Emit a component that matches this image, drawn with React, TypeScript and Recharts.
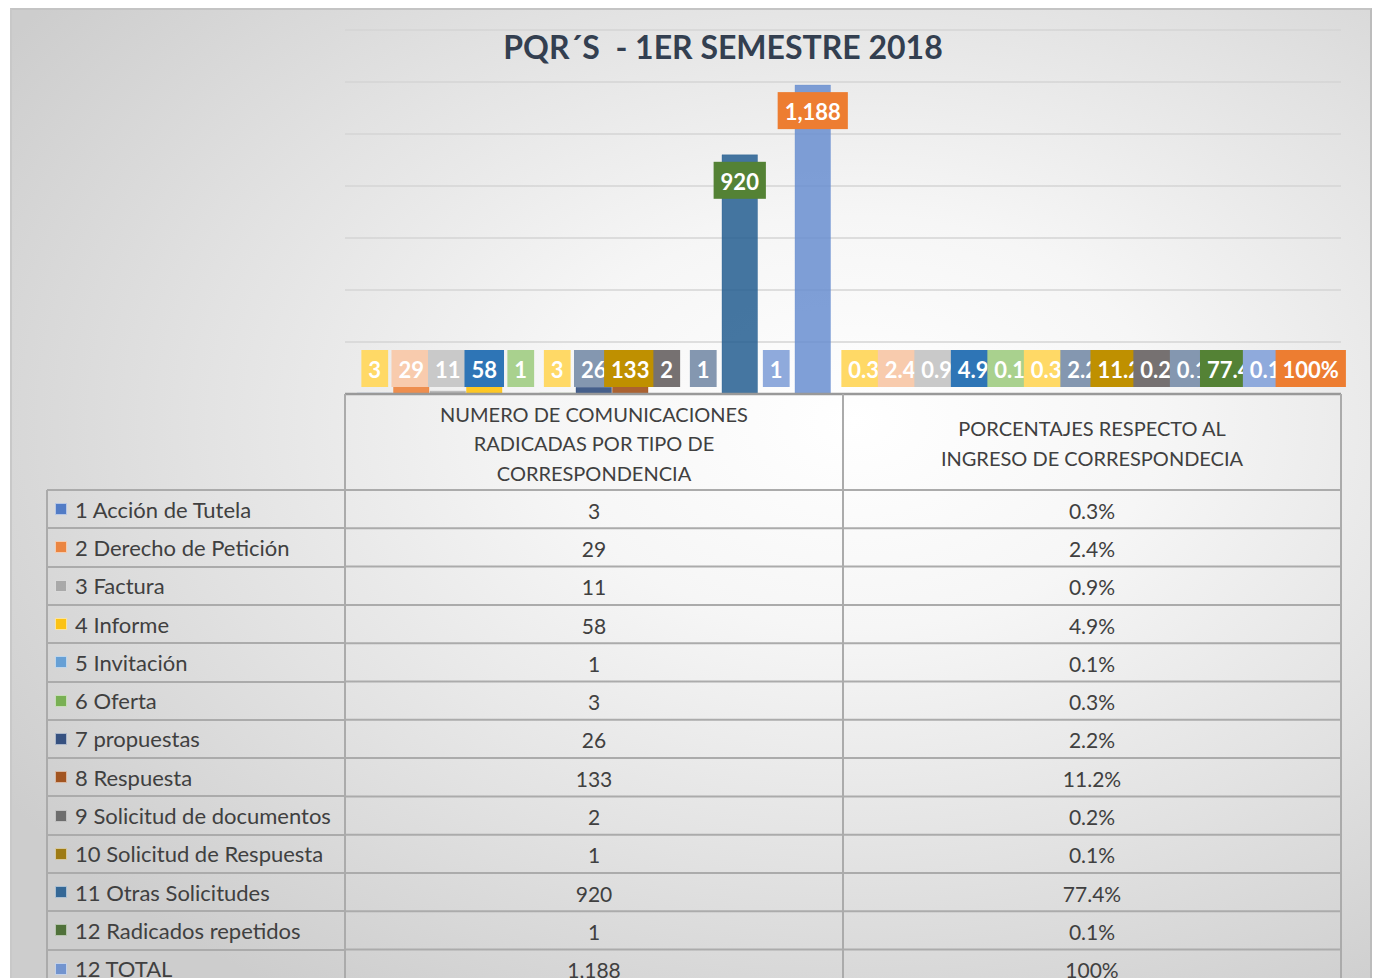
import React from 'react'
import { BarChart, Bar, XAxis, YAxis, CartesianGrid, Legend, LabelList } from 'recharts'

const categories = [
  'NUMERO DE COMUNICACIONES RADICADAS POR TIPO DE CORRESPONDENCIA',
  'PORCENTAJES RESPECTO AL INGRESO DE CORRESPONDECIA',
]
const categoryLines = [
  ['NUMERO DE COMUNICACIONES', 'RADICADAS POR TIPO DE', 'CORRESPONDENCIA'],
  ['PORCENTAJES RESPECTO AL', 'INGRESO DE CORRESPONDECIA'],
]
const seriesNames = [
  '1 Acción de Tutela',
  '2 Derecho de Petición',
  '3 Factura',
  '4 Informe',
  '5 Invitación',
  '6 Oferta',
  '7 propuestas',
  '8 Respuesta',
  '9 Solicitud de documentos',
  '10 Solicitud de Respuesta',
  '11 Otras Solicitudes',
  '12 Radicados repetidos',
  '12 TOTAL',
]
const counts = [3, 29, 11, 58, 1, 3, 26, 133, 2, 1, 920, 1, 1188]
const shares = [0.003, 0.024, 0.009, 0.049, 0.001, 0.003, 0.022, 0.112, 0.002, 0.001, 0.774, 0.001, 1]
const yTicks = [0, 200, 400, 600, 800, 1000, 1200, 1400]

const barColors = [
  '#4472C4', '#ED7D31', '#A5A5A5', '#FFC000', '#5B9BD5', '#70AD47', '#264478',
  '#9E480E', '#636363', '#997300', '#255E91', '#43682B', '#698ED0',
]
const labelColors = [
  '#FFD966', '#F8CBAD', '#C9C9C9', '#2E75B6', '#A9D18E', '#FFD966', '#8497B0',
  '#BF9000', '#767171', '#8497B0', '#548235', '#8FAADC', '#ED7D31',
]

const data = categories.map((cat, ci) => {
  const row: Record<string, string | number> = { cat }
  seriesNames.forEach((_, si) => {
    row['s' + si] = ci === 0 ? counts[si] : shares[si]
  })
  return row
})

// layout (page px)
const W = 1376
const H = 978
const PLOT_LEFT = 345
const PLOT_RIGHT = 1341
const PLOT_TOP = 30
const AXIS_Y = 394
const HEADER_BOTTOM = 490
const ROW_H = 38.3
const LEGEND_LEFT = 47
const FONT = 'Lato, "Open Sans", sans-serif'
const TEXT = '#404040'
const LINE = '#ababab'
const LABEL_SIZE = 22

const fmtCount = (v: number) => v.toLocaleString('en-US')
const fmtShare = (v: number) => (v === 1 ? '100%' : (v * 100).toFixed(1) + '%')
const fmt = (ci: number, v: number) => (ci === 0 ? fmtCount(v) : fmtShare(v))

let ctx: CanvasRenderingContext2D | null = null
function measure(text: string, font: string) {
  if (!ctx) ctx = document.createElement('canvas').getContext('2d')
  if (!ctx) return text.length * 12
  ctx.font = font
  return ctx.measureText(text).width
}

// excel-style boxed label: inside end, but never below the axis
function boxLabel(si: number) {
  return function BoxLabel(props: any) {
    const vb = props.viewBox ?? props
    const x = Number(vb.x ?? props.x)
    const y = Number(vb.y ?? props.y)
    const width = Number(vb.width ?? props.width)
    const ci = typeof props.index === 'number' ? props.index : x > (PLOT_LEFT + PLOT_RIGHT) / 2 ? 1 : 0
    const text = fmt(ci, Number(props.value))
    const w = measure(text, `bold ${LABEL_SIZE}px Lato`) + 14
    const h = 37
    const cx = x + width / 2
    const top = Math.min(y + 7, AXIS_Y - 7 - h)
    return (
      <g>
        <rect x={cx - w / 2} y={top} width={w} height={h} fill={labelColors[si]} />
        <text
          x={cx}
          y={top + h / 2 + 1}
          textAnchor="middle"
          dominantBaseline="central"
          fill="#fff"
          fontFamily={FONT}
          fontWeight={700}
          fontSize={LABEL_SIZE}
        >
          {text}
        </text>
      </g>
    )
  }
}

// each x tick draws its column of the data table
function TableColumn(props: any) {
  const { x, index } = props
  const ci = index as number
  const colW = (PLOT_RIGHT - PLOT_LEFT) / categories.length
  const left = x - colW / 2
  const lines = categoryLines[ci] ?? [String(props.payload?.value ?? '')]
  const headMid = (AXIS_Y + HEADER_BOTTOM) / 2 + 1
  const lh = 29.5
  const bottom = HEADER_BOTTOM + seriesNames.length * ROW_H
  return (
    <g>
      <line x1={left} x2={left} y1={AXIS_Y} y2={bottom} stroke={LINE} strokeWidth={2} />
      <line x1={left + colW} x2={left + colW} y1={AXIS_Y} y2={bottom} stroke={LINE} strokeWidth={2} />
      {seriesNames.map((_, r) => (
        <line
          key={'h' + r}
          x1={left}
          x2={left + colW}
          y1={HEADER_BOTTOM + r * ROW_H}
          y2={HEADER_BOTTOM + r * ROW_H}
          stroke={LINE}
          strokeWidth={2}
        />
      ))}
      {lines.map((ln, i) => (
        <text
          key={'t' + i}
          x={x}
          y={headMid + (i - (lines.length - 1) / 2) * lh}
          textAnchor="middle"
          dominantBaseline="central"
          fill={TEXT}
          fontFamily={FONT}
          fontSize={20}
        >
          {ln}
        </text>
      ))}
      {seriesNames.map((_, r) => (
        <text
          key={'v' + r}
          x={x}
          y={HEADER_BOTTOM + (r + 0.5) * ROW_H + 1}
          textAnchor="middle"
          dominantBaseline="central"
          fill={TEXT}
          fontFamily={FONT}
          fontSize={21}
        >
          {fmt(ci, Number(data[ci]['s' + r]))}
        </text>
      ))}
    </g>
  )
}

function renderLegend(props: any) {
  const payload = (props.payload ?? [])
    .slice()
    .sort((a: any, b: any) => seriesNames.indexOf(a.value) - seriesNames.indexOf(b.value))
  return (
    <div style={{ position: 'relative', width: PLOT_LEFT - LEGEND_LEFT, height: seriesNames.length * ROW_H }}>
      <div
        style={{
          position: 'absolute',
          left: -1,
          top: 0,
          width: 2,
          height: seriesNames.length * ROW_H,
          background: LINE,
        }}
      />
      {payload.map((p: any, i: number) => (
        <div
          key={i}
          style={{
            position: 'absolute',
            left: 0,
            top: i * ROW_H,
            width: PLOT_LEFT - LEGEND_LEFT,
            height: ROW_H,
            display: 'flex',
            alignItems: 'center',
          }}
        >
          <div
            style={{
              position: 'absolute',
              left: 0,
              top: -1,
              width: PLOT_LEFT - LEGEND_LEFT,
              height: 2,
              background: LINE,
            }}
          />
          <span
            style={{
              display: 'inline-block',
              width: 10,
              height: 10,
              marginLeft: 8,
              marginRight: 8,
              background: p.color,
              opacity: 0.9,
              border: '1px solid rgba(255,255,255,0.6)',
            }}
          />
          <span style={{ fontFamily: FONT, fontSize: 22, color: TEXT, whiteSpace: 'nowrap' }}>{p.value}</span>
        </div>
      ))}
    </div>
  )
}

export default function App() {
  return (
    <div style={{ position: 'absolute', left: 0, top: 0, width: W, height: H, overflow: 'hidden', background: '#fff' }}>
      <div
        style={{
          position: 'absolute',
          left: 10,
          top: 8,
          width: 1358,
          height: 980,
          borderTop: '2px solid #c4c4c4',
          borderLeft: '2px solid #c8c8c8',
          borderRight: '2px solid #bcbcbc',
          background:
            'radial-gradient(ellipse 75% 70% at 62% 42%, #ffffff 0%, #f6f6f6 30%, #e2e2e2 65%, #cdcdcd 100%)',
        }}
      />
      <div style={{ position: 'absolute', left: 0, top: 0 }}>
        <BarChart
          width={W}
          height={H}
          data={data}
          margin={{ top: PLOT_TOP, right: W - PLOT_RIGHT, bottom: 4, left: PLOT_LEFT }}
          barSize={35.5}
          barGap={1}
        >
          <CartesianGrid vertical={false} stroke="#d4d4d4" strokeWidth={1.5} />
          <YAxis hide domain={[0, 1400]} ticks={yTicks} />
          <XAxis
            dataKey="cat"
            interval={0}
            tickLine={false}
            axisLine={{ stroke: '#999', strokeWidth: 2.5 }}
            height={H - AXIS_Y - 4}
            tick={<TableColumn />}
          />
          <Legend
            layout="vertical"
            align="center"
            verticalAlign="middle"
            content={renderLegend}
            wrapperStyle={{ left: LEGEND_LEFT, top: HEADER_BOTTOM, width: PLOT_LEFT - LEGEND_LEFT, margin: 0, padding: 0 }}
          />
          {seriesNames.map((name, si) => (
            <Bar
              key={name}
              dataKey={'s' + si}
              name={name}
              fill={barColors[si]}
              fillOpacity={0.85}
              stroke={barColors[si]}
              strokeOpacity={0.35}
              isAnimationActive={false}
            >
              <LabelList dataKey={'s' + si} content={boxLabel(si)} />
            </Bar>
          ))}
        </BarChart>
      </div>
      <div
        style={{
          position: 'absolute',
          left: 723 - 400,
          width: 800,
          top: 28,
          lineHeight: '38px',
          textAlign: 'center',
          fontFamily: FONT,
          fontWeight: 700,
          fontSize: 32,
          color: '#333F50',
          whiteSpace: 'pre',
        }}
      >
        {'PQR´S  - 1ER SEMESTRE 2018'}
      </div>
    </div>
  )
}
